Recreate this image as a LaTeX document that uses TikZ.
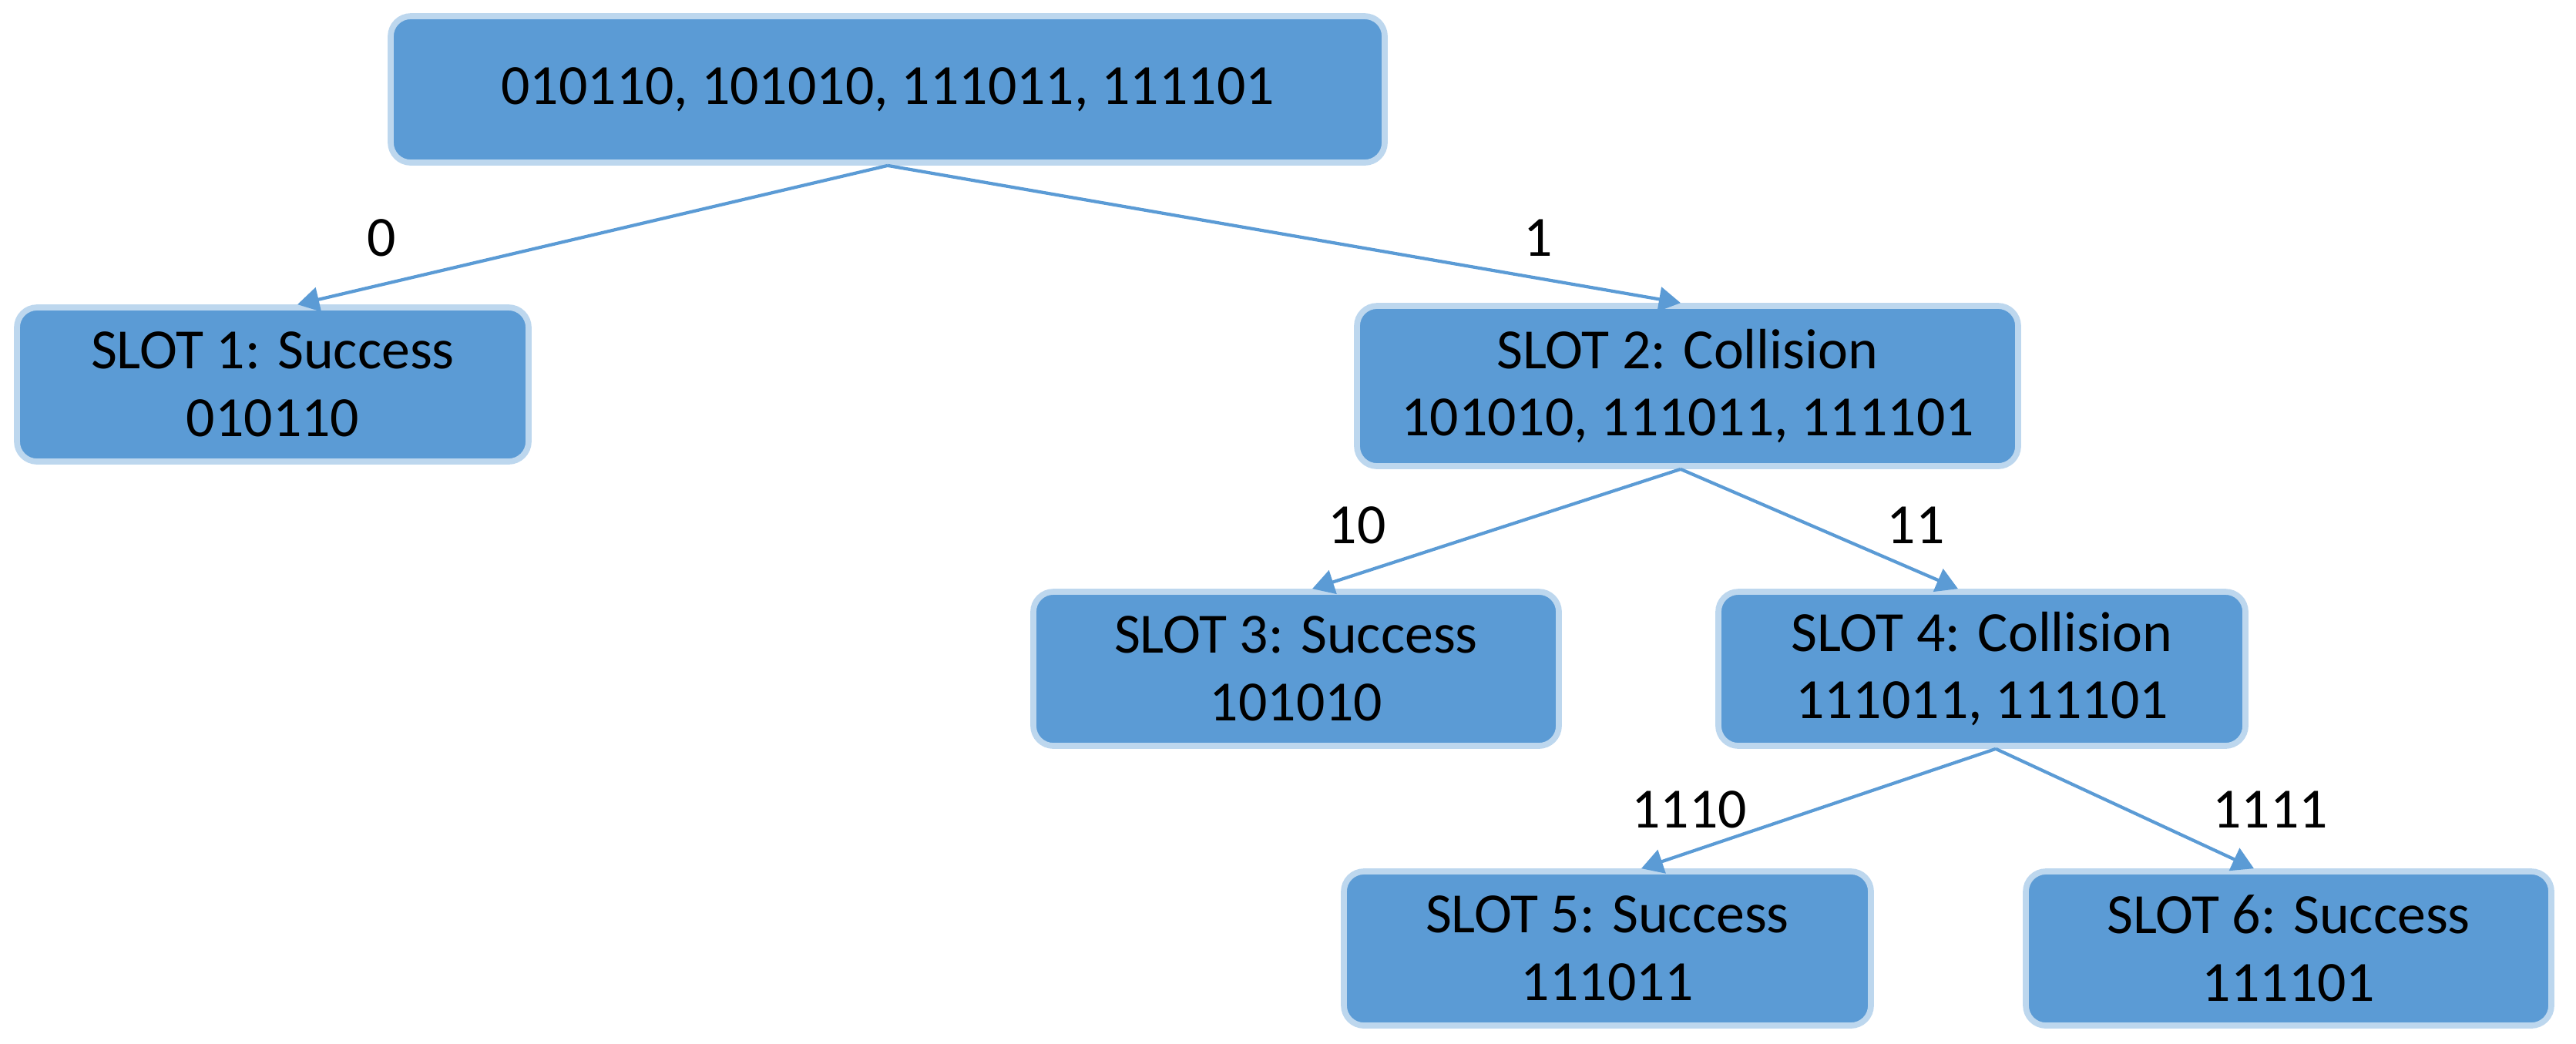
\documentclass[tikz,border=0pt]{standalone}
\usepackage{fontspec}
\setmainfont{Carlito}
\usetikzlibrary{arrows.meta}

\definecolor{boxfill}{HTML}{5B9BD5}
\definecolor{boxline}{HTML}{BDD7EE}

\begin{document}
\begin{tikzpicture}[
  slot/.style={draw=boxline, line width=1.1pt, fill=boxfill, rounded corners=1.3mm,
    align=center, font=\fontsize{10.5}{12.5}\selectfont, minimum height=1cm},
  branch/.style={draw=boxfill, line width=0.6pt, -{Triangle[length=4pt,width=4.5pt]}},
  lbl/.style={font=\fontsize{10.5}{12.5}\selectfont}
]
\useasboundingbox (0,0) rectangle (16.715,-6.77);

\node[slot, minimum width=6.45cm, minimum height=0.95cm] (root) at (5.76,-0.58) {010110, 101010, 111011, 111101};

\node[slot, minimum width=3.32cm] (s1) at (1.77,-2.495) {SLOT 1: Success\\010110};
\node[slot, minimum width=4.29cm, minimum height=1.04cm] (s2) at (10.95,-2.505) {SLOT 2: Collision\\101010, 111011, 111101};
\node[slot, minimum width=3.41cm] (s3) at (8.41,-4.34) {SLOT 3: Success\\101010};
\node[slot, minimum width=3.42cm] (s4) at (12.86,-4.34) {SLOT 4: Collision\\111011, 111101};
\node[slot, minimum width=3.42cm] (s5) at (10.43,-6.155) {SLOT 5: Success\\111011};
\node[slot, minimum width=3.41cm] (s6) at (14.85,-6.155) {SLOT 6: Success\\111101};

\draw[branch] (root.south) -- ([xshift=1.6mm]s1.north);
\draw[branch] (root.south) -- ([xshift=-0.45mm]s2.north);
\draw[branch] ([xshift=-0.45mm]s2.south) -- ([xshift=1.05mm]s3.north);
\draw[branch] ([xshift=-0.45mm]s2.south) -- ([xshift=-1.55mm]s4.north);
\draw[branch] ([xshift=0.9mm]s4.south) -- ([xshift=2.2mm]s5.north);
\draw[branch] ([xshift=0.9mm]s4.south) -- ([xshift=-2.25mm]s6.north);

\node[lbl] (l0) at (2.475,-1.545) {0};
\node[lbl] (l1) at (9.98,-1.545) {1};
\node[lbl] (l10) at (8.805,-3.41) {10};
\node[lbl] (l11) at (12.43,-3.41) {11};
\node[lbl] (l1110) at (10.96,-5.255) {1110};
\node[lbl] (l1111) at (14.73,-5.255) {1111};
\end{tikzpicture}
\end{document}
